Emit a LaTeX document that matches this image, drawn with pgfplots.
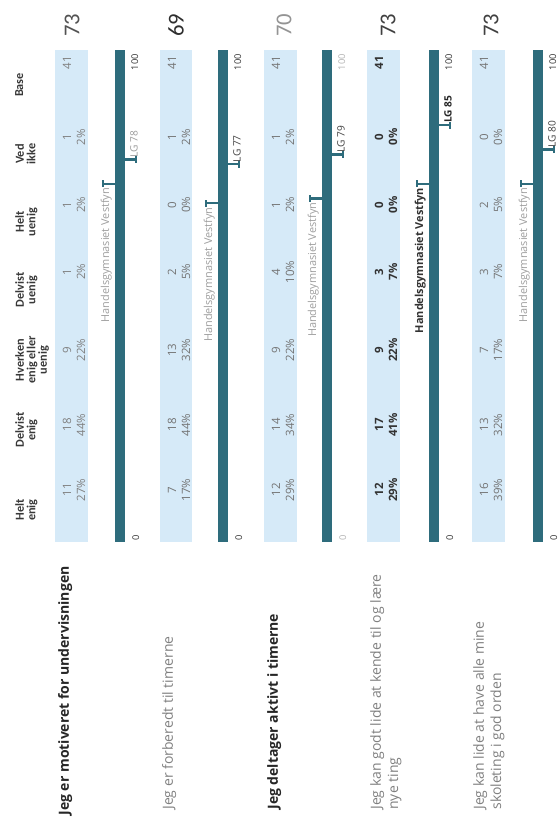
\documentclass[border=0pt]{standalone}
\usepackage{fontspec}
\setmainfont{Open Sans}
\newfontfamily\carlito{Carlito}
\usepackage{pgfplots}
\pgfplotsset{compat=1.18}
\definecolor{stripblue}{RGB}{214,234,248}
\definecolor{barteal}{RGB}{46,108,124}
\newcommand\vfont{\fontsize{8.6}{9}\selectfont}
% cell: L, v, count, pct, extra options
\newcommand\cell[5]{%
  \node[rotate=90,inner sep=0,font=\vfont,#5] at (axis cs:#1+12,#2) {#3};
  \node[rotate=90,inner sep=0,font=\vfont,#5] at (axis cs:#1+26,#2) {#4\%};}
\newcommand\basecell[3]{%
  \node[rotate=90,inner sep=0,font=\vfont,#3] at (axis cs:#1+12,#2) {41};}
\newcommand\hdr[2]{%
  \node[rotate=90,anchor=north,inner sep=0,align=center,text=black!78,
        font=\carlito\bfseries\fontsize{9.2}{8.6}\selectfont] at (axis cs:15,#1) {#2};}
\begin{document}
\begin{tikzpicture}
\begin{axis}[
  scale only axis, width=419.25pt, height=620.25pt,
  xmin=0, xmax=559, ymin=-58.81, ymax=110.66,
  hide axis, clip=false,
  every axis plot/.append style={line cap=butt}
]
% ---------- light strips ----------
\addplot[fill=stripblue, draw=none] coordinates {(55,-0.4) (88,-0.4) (88,100.4) (55,100.4)} -- cycle;
\addplot[fill=stripblue, draw=none] coordinates {(160,-0.4) (192,-0.4) (192,100.4) (160,100.4)} -- cycle;
\addplot[fill=stripblue, draw=none] coordinates {(264,-0.4) (297,-0.4) (297,100.4) (264,100.4)} -- cycle;
\addplot[fill=stripblue, draw=none] coordinates {(367,-0.4) (400,-0.4) (400,100.4) (367,100.4)} -- cycle;
\addplot[fill=stripblue, draw=none] coordinates {(472,-0.4) (505,-0.4) (505,100.4) (472,100.4)} -- cycle;
% ---------- scale bars 0-100 ----------
\addplot[barteal, line width=8pt] coordinates {(120,-0.4) (120,100.4)};
\addplot[barteal, line width=8pt] coordinates {(223,-0.4) (223,100.4)};
\addplot[barteal, line width=8pt] coordinates {(327,-0.4) (327,100.4)};
\addplot[barteal, line width=8pt] coordinates {(434,-0.4) (434,100.4)};
\addplot[barteal, line width=8pt] coordinates {(538,-0.4) (538,100.4)};
% ---------- school markers (Handelsgymnasiet Vestfyn) ----------
\addplot[barteal, line width=1.8pt] coordinates {(115,73) (103,73)};
\addplot[barteal, line width=1.4pt] coordinates {(103,72.3) (103,73.7)};
\addplot[barteal, line width=1.8pt] coordinates {(218,69) (206,69)};
\addplot[barteal, line width=1.4pt] coordinates {(206,68.3) (206,69.7)};
\addplot[barteal, line width=1.8pt] coordinates {(322,70) (310,70)};
\addplot[barteal, line width=1.4pt] coordinates {(310,69.3) (310,70.7)};
\addplot[barteal, line width=1.8pt] coordinates {(429,73) (417,73)};
\addplot[barteal, line width=1.4pt] coordinates {(417,72.3) (417,73.7)};
\addplot[barteal, line width=1.8pt] coordinates {(533,73) (521,73)};
\addplot[barteal, line width=1.4pt] coordinates {(521,72.3) (521,73.7)};
% ---------- LG markers ----------
\addplot[barteal, line width=1.8pt] coordinates {(125,78) (136,78)};
\addplot[barteal, line width=1.4pt] coordinates {(136,77.3) (136,78.7)};
\addplot[barteal, line width=1.8pt] coordinates {(228,77) (239,77)};
\addplot[barteal, line width=1.4pt] coordinates {(239,76.3) (239,77.7)};
\addplot[barteal, line width=1.8pt] coordinates {(332,79) (343,79)};
\addplot[barteal, line width=1.4pt] coordinates {(343,78.3) (343,79.7)};
\addplot[barteal, line width=1.8pt] coordinates {(439,85) (450,85)};
\addplot[barteal, line width=1.4pt] coordinates {(450,84.3) (450,85.7)};
\addplot[barteal, line width=1.8pt] coordinates {(543,80) (554,80)};
\addplot[barteal, line width=1.4pt] coordinates {(554,79.3) (554,80.7)};

% ---------- headers ----------
\hdr{6.15}{Helt\\enig}
\hdr{22.54}{Delvist\\enig}
\hdr{36.89}{Hverken\\enig eller\\uenig}
\hdr{51.23}{Delvist\\uenig}
\hdr{65.16}{Helt\\uenig}
\hdr{79.10}{Ved\\ikke}
\hdr{93.24}{Base}

% ---------- row 1 ----------
\cell{55}{10.25}{11}{27}{text=black!50}
\cell{55}{23.57}{18}{44}{text=black!50}
\cell{55}{38.93}{9}{22}{text=black!50}
\cell{55}{54.92}{1}{2}{text=black!50}
\cell{55}{68.65}{1}{2}{text=black!50}
\cell{55}{82.58}{1}{2}{text=black!50}
\basecell{55}{97.75}{text=black!50}
% ---------- row 2 ----------
\cell{160}{10.25}{7}{17}{text=black!55}
\cell{160}{23.57}{18}{44}{text=black!55}
\cell{160}{38.93}{13}{32}{text=black!55}
\cell{160}{54.92}{2}{5}{text=black!55}
\cell{160}{68.65}{0}{0}{text=black!55}
\cell{160}{82.58}{1}{2}{text=black!55}
\basecell{160}{97.75}{text=black!55}
% ---------- row 3 ----------
\cell{264}{10.25}{12}{29}{text=black!55}
\cell{264}{23.57}{14}{34}{text=black!55}
\cell{264}{38.93}{9}{22}{text=black!55}
\cell{264}{54.92}{4}{10}{text=black!55}
\cell{264}{68.65}{1}{2}{text=black!55}
\cell{264}{82.58}{1}{2}{text=black!55}
\basecell{264}{97.75}{text=black!55}
% ---------- row 4 ----------
\cell{367}{10.25}{12}{29}{text=black!80,font=\vfont\bfseries}
\cell{367}{23.57}{17}{41}{text=black!80,font=\vfont\bfseries}
\cell{367}{38.93}{9}{22}{text=black!80,font=\vfont\bfseries}
\cell{367}{54.92}{3}{7}{text=black!80,font=\vfont\bfseries}
\cell{367}{68.65}{0}{0}{text=black!80,font=\vfont\bfseries}
\cell{367}{82.58}{0}{0}{text=black!80,font=\vfont\bfseries}
\basecell{367}{97.75}{text=black!80,font=\vfont\bfseries}
% ---------- row 5 ----------
\cell{472}{10.25}{16}{39}{text=black!55}
\cell{472}{23.57}{13}{32}{text=black!55}
\cell{472}{38.93}{7}{17}{text=black!55}
\cell{472}{54.92}{3}{7}{text=black!55}
\cell{472}{68.65}{2}{5}{text=black!55}
\cell{472}{82.58}{0}{0}{text=black!55}
\basecell{472}{97.75}{text=black!55}

% ---------- big index numbers ----------
\node[rotate=90,font=\carlito\fontsize{17}{17}\selectfont,text=black!68] at (axis cs:72,105.5) {73};
\node[rotate=90,font=\carlito\fontsize{17}{17}\selectfont,text=black!82] at (axis cs:176,105.5) {69};
\node[rotate=90,font=\carlito\fontsize{17}{17}\selectfont,text=black!42] at (axis cs:284,105.5) {70};
\node[rotate=90,font=\carlito\fontsize{17}{17}\selectfont,text=black!75] at (axis cs:388,105.5) {73};
\node[rotate=90,font=\carlito\fontsize{17}{17}\selectfont,text=black!75] at (axis cs:491,105.5) {73};

% ---------- 0 / 100 labels ----------
\foreach \b/\c in {120/black!80,223/black!80,327/black!30,434/black!80,538/black!80}{
  \edef\tmp{\noexpand\node[rotate=90,anchor=north west,inner sep=0,font=\noexpand\fontsize{7}{8}\noexpand\selectfont,text=\c] at (axis cs:\b+12,-0.2) {0};
  \noexpand\node[rotate=90,anchor=north east,inner sep=0,font=\noexpand\fontsize{7}{8}\noexpand\selectfont,text=\c] at (axis cs:\b+11,99.6) {100};}\tmp}

% ---------- school labels ----------
\node[rotate=90,anchor=south east,inner sep=0,font=\fontsize{8.2}{8}\selectfont,text=black!38] at (axis cs:112,72.2) {Handelsgymnasiet Vestfyn};
\node[rotate=90,anchor=south east,inner sep=0,font=\fontsize{8.2}{8}\selectfont,text=black!38] at (axis cs:215,68.2) {Handelsgymnasiet Vestfyn};
\node[rotate=90,anchor=south east,inner sep=0,font=\fontsize{8.2}{8}\selectfont,text=black!38] at (axis cs:319,69.2) {Handelsgymnasiet Vestfyn};
\node[rotate=90,anchor=south east,inner sep=0,font=\fontsize{8.2}{8}\selectfont\bfseries,text=black!80] at (axis cs:426,72.2) {Handelsgymnasiet Vestfyn};
\node[rotate=90,anchor=south east,inner sep=0,font=\fontsize{8.2}{8}\selectfont,text=black!38] at (axis cs:530,72.2) {Handelsgymnasiet Vestfyn};

% ---------- LG labels ----------
\node[rotate=90,anchor=north west,inner sep=0,font=\fontsize{7.6}{8}\selectfont,text=black!40] at (axis cs:130,78.4) {LG 78};
\node[rotate=90,anchor=north west,inner sep=0,font=\fontsize{7.6}{8}\selectfont,text=black!75] at (axis cs:233,77.4) {LG 77};
\node[rotate=90,anchor=north west,inner sep=0,font=\fontsize{7.6}{8}\selectfont,text=black!75] at (axis cs:337,79.4) {LG 79};
\node[rotate=90,anchor=north west,inner sep=0,font=\fontsize{7.6}{8}\selectfont\bfseries,text=black!85] at (axis cs:444,85.4) {LG 85};
\node[rotate=90,anchor=north west,inner sep=0,font=\fontsize{7.6}{8}\selectfont,text=black!75] at (axis cs:548,80.4) {LG 80};

% ---------- statements ----------
\node[rotate=90,anchor=north west,inner sep=0,align=left,font=\fontsize{10.5}{13}\selectfont\bfseries,text=black!85] at (axis cs:58,-56.5) {Jeg er motiveret for undervisningen};
\node[rotate=90,anchor=north west,inner sep=0,align=left,font=\fontsize{10.5}{13}\selectfont,text=black!50] at (axis cs:162,-55.3) {Jeg er forberedt til timerne};
\node[rotate=90,anchor=north west,inner sep=0,align=left,font=\fontsize{10.5}{13}\selectfont\bfseries,text=black!85] at (axis cs:267,-55.3) {Jeg deltager aktivt i timerne};
\node[rotate=90,anchor=north west,inner sep=0,align=left,font=\fontsize{10.5}{13}\selectfont,text=black!50] at (axis cs:370,-55.3) {Jeg kan godt lide at kende til og lære\\nye ting};
\node[rotate=90,anchor=north west,inner sep=0,align=left,font=\fontsize{10.5}{13}\selectfont,text=black!50] at (axis cs:473,-55.3) {Jeg kan lide at have alle mine\\skoleting i god orden};
\end{axis}
\pgfresetboundingbox
\path (current axis.south west) rectangle (current axis.north east);
\end{tikzpicture}
\end{document}
